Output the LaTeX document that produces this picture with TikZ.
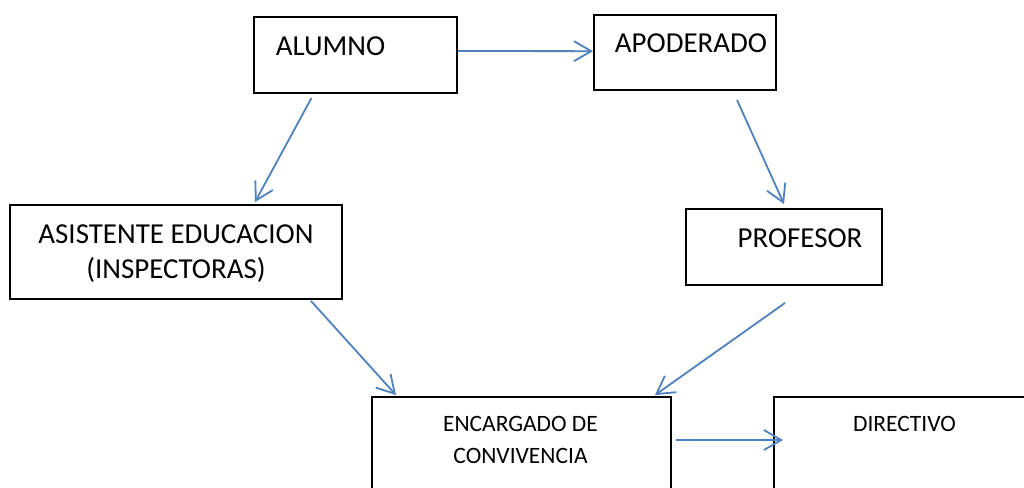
\documentclass[tikz,border=0pt]{standalone}
\usepackage{fontspec}
\setmainfont{Carlito}
\usetikzlibrary{arrows.meta}
\definecolor{linkblue}{RGB}{79,129,189}

\begin{document}
\begin{tikzpicture}[x=0.75pt, y=-0.75pt, >={Straight Barb[length=13pt,width=15pt]}]
      \tikzstyle{box} = [draw, rectangle, line width=1.4pt, inner sep=0pt]
      \tikzstyle{big} = [font=\fontsize{21.7}{26.25}\selectfont, align=center]
      \tikzstyle{small} = [font=\fontsize{17.6}{24.4}\selectfont, align=center]
      \tikzstyle{link} = [->, draw=linkblue, line width=1.35pt]
      \useasboundingbox (0,0) rectangle (1024,487);
      \clip (0,0) rectangle (1024,487);

      \node [box, minimum width=152.25pt, minimum height=57pt,
             label={[big, shift={(-25,-8.5)}]center:ALUMNO}] (alumno) at (355.5,55) {};
      \node [box, minimum width=136.5pt, minimum height=56.25pt,
             label={[big, shift={(6,-9)}]center:APODERADO}] (apoderado) at (685,52.5) {};
      \node [box, minimum width=249pt, minimum height=70.5pt,
             label={[big, shift={(0,1.5)}]center:ASISTENTE EDUCACION\\(INSPECTORAS)}] (asistente) at (176,252) {};
      \node [box, minimum width=147pt, minimum height=57pt,
             label={[big, shift={(16,-9)}]center:PROFESOR}] (profesor) at (784,247) {};
      \node [box, minimum width=224.25pt, minimum height=97.5pt,
             label={[small, shift={(-1,-22)}]center:ENCARGADO DE\\CONVIVENCIA}] (encargado) at (521.5,462) {};
      \node [box, minimum width=214.5pt, minimum height=97.5pt,
             label={[small, shift={(-12.5,-38)}]center:DIRECTIVO}] (directivo) at (917,462) {};

      \draw [link] ([yshift=3pt]alumno.east) -- ([yshift=1pt]apoderado.west);
      \draw [link] ([shift={(-44,4)}]alumno.south) -- ([shift={(79,-2)}]asistente.north);
      \draw [link] ([shift={(52,9)}]apoderado.south) -- ([shift={(0,-4)}]profesor.north);
      \draw [link] ([shift={(135,1)}]asistente.south) -- ([shift={(-125.5,-1)}]encargado.north);
      \draw [link] ([shift={(1,17)}]profesor.south) -- ([shift={(133.5,-1)}]encargado.north);
      \draw [link] ([shift={(4,-22)}]encargado.east) -- ([shift={(10,-22)}]directivo.west);
    \end{tikzpicture}
\end{document}
